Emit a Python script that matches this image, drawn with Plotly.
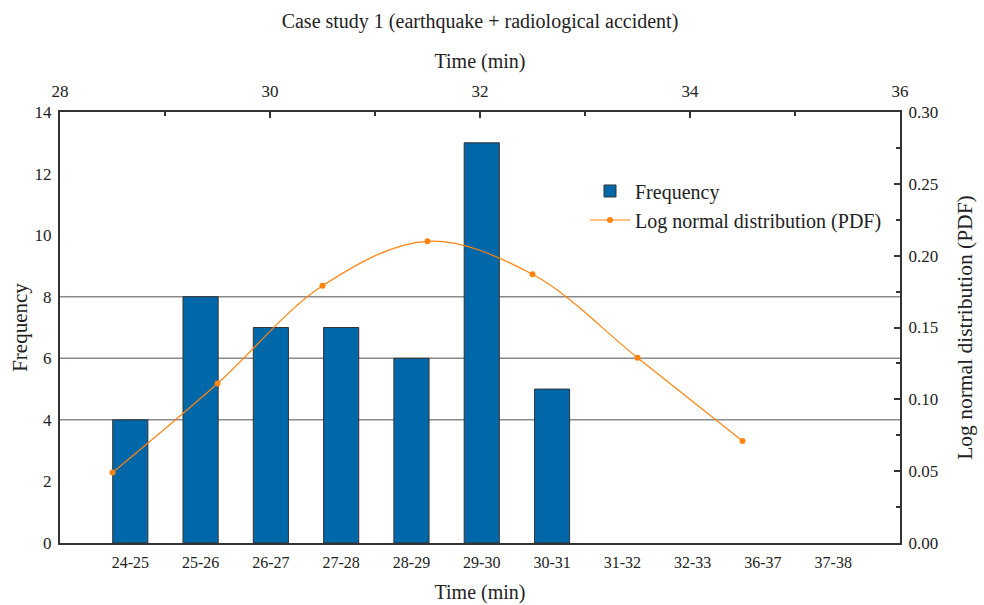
import plotly.graph_objects as go

categories = ["24-25", "25-26", "26-27", "27-28", "28-29", "29-30", "30-31",
              "31-32", "32-33", "36-37", "37-38"]
frequency = [4, 8, 7, 7, 6, 13, 5, 0, 0, 0, 0]

pdf_time = [28.5, 29.5, 30.5, 31.5, 32.5, 33.5, 34.5]
pdf_values = [0.049, 0.111, 0.179, 0.210, 0.187, 0.129, 0.071]

grid_levels = [4, 6, 8]

FONT = "Liberation Serif, Times New Roman, serif"
BAR = "#0067a9"
ORANGE = "#ff8410"
TXT = "#222222"

fig = go.Figure()
fig.add_trace(go.Bar(
    x=list(range(len(categories))), y=[v if v else None for v in frequency], name="Frequency",
    width=0.5, marker=dict(color=BAR, line=dict(color="#333333", width=1)),
    xaxis="x", yaxis="y",
))
fig.add_trace(go.Scatter(
    x=pdf_time, y=pdf_values, name="Log normal distribution (PDF)",
    mode="lines+markers", line=dict(color=ORANGE, width=1.2, shape="spline", smoothing=1.0),
    marker=dict(color=ORANGE, size=6),
    xaxis="x2", yaxis="y2",
))

shapes = [dict(type="line", xref="paper", x0=0, x1=1, yref="y", y0=g, y1=g,
               line=dict(color="#8a8a8a", width=1.5), layer="below") for g in grid_levels]

fig.update_layout(
    width=984, height=605,
    margin=dict(l=60, r=84, t=112, b=62, autoexpand=False),
    paper_bgcolor="white", plot_bgcolor="white",
    font=dict(family=FONT, size=17, color=TXT),
    title=dict(text="Case study 1 (earthquake + radiological accident)",
               x=0.4878, xanchor="center", y=0.965, yanchor="middle",
               font=dict(family=FONT, size=20, color=TXT)),
    showlegend=True,
    legend=dict(x=0.625, y=0.862, xanchor="left", yanchor="top",
                bgcolor="rgba(0,0,0,0)", font=dict(family=FONT, size=20, color=TXT),
                tracegroupgap=0, itemwidth=40),
    shapes=shapes,
    xaxis=dict(
        range=[-1, 10.95], tickmode="array", tickvals=list(range(len(categories))),
        ticktext=categories, showline=True, linecolor="#333333", linewidth=2,
        ticks="", showgrid=False, zeroline=False, automargin=False,
        ticklabelstandoff=4,
        title=dict(text="Time (min)", font=dict(family=FONT, size=20), standoff=15),
        tickfont=dict(family=FONT, size=16),
    ),
    xaxis2=dict(
        overlaying="x", side="top", range=[28, 36], dtick=2, tick0=28,
        showline=True, linecolor="#333333", linewidth=2,
        ticks="inside", ticklen=6, tickcolor="#333333", tickwidth=1.5,
        minor=dict(dtick=1, ticks="inside", ticklen=4, tickcolor="#333333", tickwidth=1.5),
        showgrid=False, zeroline=False, automargin=False,
        ticklabelstandoff=6,
        title=dict(text="Time (min)", font=dict(family=FONT, size=20), standoff=8),
        tickfont=dict(family=FONT, size=17),
    ),
    yaxis=dict(
        range=[0, 14], dtick=2, showline=True, linecolor="#333333", linewidth=2,
        ticks="", showgrid=False, zeroline=False, automargin=False,
        ticklabelstandoff=3,
        title=dict(text="Frequency", font=dict(family=FONT, size=21), standoff=1),
        tickfont=dict(family=FONT, size=17),
    ),
    yaxis2=dict(
        overlaying="y", side="right", range=[0, 0.30], dtick=0.05, tickformat=".2f",
        showline=True, linecolor="#333333", linewidth=2,
        ticks="inside", ticklen=6, tickcolor="#333333", tickwidth=1.5,
        minor=dict(dtick=0.025, ticks="inside", ticklen=4, tickcolor="#333333", tickwidth=1.5),
        showgrid=False, zeroline=False, automargin=False,
        ticklabelstandoff=3,
        title=dict(text="Log normal distribution (PDF)", font=dict(family=FONT, size=21.5), standoff=20),
        tickfont=dict(family=FONT, size=17),
    ),
)

fig.write_html("out.html", config={"displayModeBar": False},
               post_script="document.body.style.margin='0px';")
